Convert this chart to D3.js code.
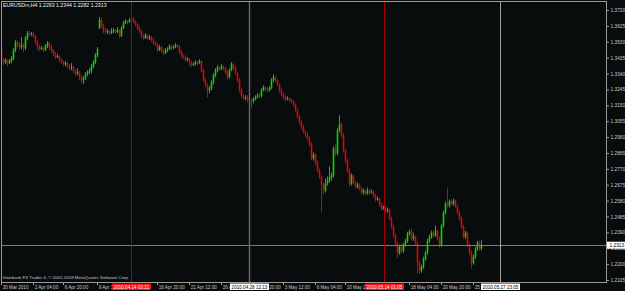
<!DOCTYPE html>
<html>
<head>
<meta charset="utf-8">
<script src="https://cdn.jsdelivr.net/npm/d3@7/dist/d3.min.js"></script>
<style>
html, body { margin: 0; padding: 0; background: #080c0c; overflow: hidden; }
svg { display: block; }
</style>
</head>
<body>
<svg id="chart-svg"></svg>
<script>
// EURUSDm H4 candles, one row of ten per line
let opens = [
1.3480,1.3420,1.3408,1.3420,1.3402,1.3414,1.3432,1.3480,1.3528,1.3516,
1.3498,1.3510,1.3492,1.3552,1.3582,1.3576,1.3582,1.3564,1.3528,1.3498,
1.3486,1.3492,1.3480,1.3504,1.3522,1.3498,1.3480,1.3456,1.3438,1.3444,
1.3420,1.3408,1.3396,1.3402,1.3384,1.3372,1.3378,1.3354,1.3342,1.3348,
1.3318,1.3300,1.3312,1.3336,1.3348,1.3354,1.3384,1.3408,1.3450,1.3612,
1.3660,1.3624,1.3600,1.3588,1.3594,1.3582,1.3594,1.3600,1.3588,1.3600,
1.3564,1.3612,1.3642,1.3654,1.3648,1.3660,1.3666,1.3654,1.3636,1.3612,
1.3594,1.3564,1.3552,1.3570,1.3552,1.3558,1.3540,1.3522,1.3516,1.3480,
1.3498,1.3474,1.3462,1.3480,1.3486,1.3504,1.3492,1.3498,1.3510,1.3504,
1.3468,1.3444,1.3438,1.3420,1.3426,1.3402,1.3390,1.3396,1.3408,1.3402,
1.3414,1.3360,1.3300,1.3270,1.3240,1.3252,1.3288,1.3330,1.3360,1.3378,
1.3366,1.3384,1.3372,1.3348,1.3318,1.3360,1.3396,1.3372,1.3342,1.3300,
1.3240,1.3204,1.3192,1.3198,1.3186,1.3180,1.3174,1.3186,1.3198,1.3210,
1.3204,1.3240,1.3258,1.3246,1.3240,1.3252,1.3300,1.3318,1.3300,1.3276,
1.3240,1.3216,1.3198,1.3186,1.3192,1.3180,1.3174,1.3156,1.3120,1.3084,
1.3048,1.3018,1.2994,1.2976,1.2952,1.2922,1.2832,1.2856,1.2808,1.2760,
1.2724,1.2676,1.2640,1.2682,1.2700,1.2718,1.2730,1.2892,1.2862,1.3000,
1.3036,1.2970,1.2880,1.2820,1.2760,1.2682,1.2730,1.2688,1.2664,1.2676,
1.2652,1.2628,1.2640,1.2622,1.2640,1.2628,1.2634,1.2610,1.2586,1.2592,
1.2556,1.2532,1.2538,1.2520,1.2526,1.2472,1.2424,1.2370,1.2322,1.2268,
1.2304,1.2280,1.2316,1.2340,1.2382,1.2394,1.2352,1.2364,1.2328,1.2208,
1.2160,1.2184,1.2232,1.2268,1.2340,1.2364,1.2388,1.2370,1.2400,1.2352,
1.2316,1.2430,1.2508,1.2562,1.2550,1.2574,1.2562,1.2580,1.2544,1.2508,
1.2472,1.2424,1.2364,1.2388,1.2316,1.2268,1.2208,1.2244,1.2292,1.2328,
1.2293
];
let highs = [
1.3492,1.3432,1.3432,1.3426,1.3426,1.3444,1.3492,1.3540,1.3540,1.3528,
1.3558,1.3522,1.3564,1.3594,1.3594,1.3588,1.3588,1.3570,1.3540,1.3510,
1.3504,1.3504,1.3516,1.3534,1.3528,1.3510,1.3486,1.3468,1.3456,1.3450,
1.3432,1.3420,1.3414,1.3408,1.3396,1.3402,1.3384,1.3366,1.3372,1.3354,
1.3330,1.3324,1.3348,1.3360,1.3372,1.3396,1.3420,1.3462,1.3498,1.3678,
1.3672,1.3636,1.3612,1.3606,1.3600,1.3612,1.3612,1.3606,1.3618,1.3606,
1.3624,1.3654,1.3666,1.3660,1.3672,1.3678,1.3678,1.3660,1.3642,1.3624,
1.3600,1.3576,1.3582,1.3576,1.3570,1.3564,1.3552,1.3534,1.3522,1.3510,
1.3504,1.3486,1.3492,1.3498,1.3516,1.3510,1.3510,1.3522,1.3516,1.3510,
1.3480,1.3456,1.3450,1.3438,1.3432,1.3414,1.3408,1.3420,1.3414,1.3426,
1.3420,1.3366,1.3312,1.3282,1.3264,1.3300,1.3342,1.3372,1.3390,1.3384,
1.3396,1.3390,1.3378,1.3360,1.3372,1.3408,1.3402,1.3384,1.3348,1.3312,
1.3252,1.3216,1.3210,1.3210,1.3198,1.3192,1.3198,1.3210,1.3222,1.3222,
1.3252,1.3270,1.3264,1.3258,1.3264,1.3312,1.3336,1.3324,1.3306,1.3282,
1.3252,1.3228,1.3210,1.3204,1.3198,1.3192,1.3180,1.3162,1.3132,1.3090,
1.3060,1.3030,1.3000,1.2988,1.2964,1.2928,1.2868,1.2862,1.2820,1.2772,
1.2730,1.2688,1.2712,1.2724,1.2784,1.2748,1.2904,1.2916,1.3012,1.3090,
1.3048,1.2982,1.2892,1.2832,1.2772,1.2742,1.2736,1.2700,1.2688,1.2682,
1.2664,1.2652,1.2646,1.2658,1.2652,1.2646,1.2640,1.2622,1.2604,1.2598,
1.2568,1.2550,1.2550,1.2538,1.2532,1.2484,1.2436,1.2382,1.2334,1.2316,
1.2322,1.2328,1.2352,1.2394,1.2406,1.2412,1.2388,1.2370,1.2334,1.2220,
1.2196,1.2244,1.2280,1.2352,1.2376,1.2400,1.2400,1.2430,1.2406,1.2364,
1.2442,1.2520,1.2574,1.2658,1.2586,1.2586,1.2592,1.2586,1.2556,1.2520,
1.2484,1.2436,1.2400,1.2394,1.2328,1.2280,1.2256,1.2304,1.2340,1.2340,
1.2344
];
let lows = [
1.3402,1.3390,1.3396,1.3384,1.3396,1.3402,1.3420,1.3468,1.3498,1.3480,
1.3486,1.3468,1.3480,1.3540,1.3564,1.3564,1.3552,1.3516,1.3480,1.3474,
1.3480,1.3468,1.3474,1.3492,1.3480,1.3462,1.3444,1.3426,1.3432,1.3408,
1.3396,1.3384,1.3384,1.3372,1.3360,1.3360,1.3342,1.3324,1.3330,1.3300,
1.3282,1.3276,1.3300,1.3324,1.3336,1.3342,1.3372,1.3396,1.3438,1.3606,
1.3612,1.3582,1.3576,1.3576,1.3570,1.3576,1.3582,1.3576,1.3582,1.3552,
1.3558,1.3606,1.3636,1.3636,1.3642,1.3648,1.3642,1.3624,1.3600,1.3582,
1.3552,1.3540,1.3546,1.3540,1.3540,1.3528,1.3510,1.3504,1.3468,1.3474,
1.3462,1.3450,1.3456,1.3468,1.3480,1.3480,1.3486,1.3492,1.3492,1.3456,
1.3432,1.3426,1.3408,1.3414,1.3384,1.3378,1.3384,1.3390,1.3390,1.3396,
1.3348,1.3288,1.3258,1.3198,1.3222,1.3240,1.3276,1.3318,1.3348,1.3354,
1.3360,1.3360,1.3336,1.3300,1.3312,1.3354,1.3360,1.3330,1.3288,1.3228,
1.3192,1.3180,1.3180,1.3168,1.3168,1.3132,1.3162,1.3180,1.3192,1.3192,
1.3198,1.3234,1.3234,1.3228,1.3234,1.3246,1.3288,1.3288,1.3264,1.3228,
1.3204,1.3186,1.3174,1.3180,1.3168,1.3162,1.3144,1.3108,1.3072,1.3036,
1.3006,1.2982,1.2958,1.2940,1.2904,1.2820,1.2820,1.2790,1.2748,1.2712,
1.2508,1.2616,1.2628,1.2670,1.2688,1.2700,1.2718,1.2844,1.2850,1.2988,
1.2958,1.2868,1.2802,1.2748,1.2664,1.2670,1.2676,1.2652,1.2652,1.2640,
1.2616,1.2616,1.2610,1.2616,1.2616,1.2622,1.2598,1.2574,1.2580,1.2544,
1.2520,1.2526,1.2508,1.2508,1.2460,1.2412,1.2358,1.2304,1.2238,1.2256,
1.2262,1.2268,1.2304,1.2328,1.2370,1.2340,1.2340,1.2310,1.2142,1.2142,
1.2148,1.2172,1.2220,1.2256,1.2328,1.2352,1.2358,1.2364,1.2340,1.2298,
1.2304,1.2418,1.2496,1.2538,1.2538,1.2550,1.2550,1.2538,1.2496,1.2460,
1.2412,1.2352,1.2352,1.2304,1.2256,1.2172,1.2196,1.2232,1.2280,1.2280,
1.2282
];
let closes = [
1.3420,1.3408,1.3420,1.3402,1.3414,1.3432,1.3480,1.3528,1.3516,1.3498,
1.3510,1.3492,1.3552,1.3582,1.3576,1.3582,1.3564,1.3528,1.3498,1.3486,
1.3492,1.3480,1.3504,1.3522,1.3498,1.3480,1.3456,1.3438,1.3444,1.3420,
1.3408,1.3396,1.3402,1.3384,1.3372,1.3378,1.3354,1.3342,1.3348,1.3318,
1.3300,1.3312,1.3336,1.3348,1.3354,1.3384,1.3408,1.3450,1.3486,1.3660,
1.3624,1.3600,1.3588,1.3594,1.3582,1.3594,1.3600,1.3588,1.3600,1.3564,
1.3612,1.3642,1.3654,1.3648,1.3660,1.3666,1.3654,1.3636,1.3612,1.3594,
1.3564,1.3552,1.3570,1.3552,1.3558,1.3540,1.3522,1.3516,1.3480,1.3498,
1.3474,1.3462,1.3480,1.3486,1.3504,1.3492,1.3498,1.3510,1.3504,1.3468,
1.3444,1.3438,1.3420,1.3426,1.3402,1.3390,1.3396,1.3408,1.3402,1.3414,
1.3360,1.3300,1.3270,1.3240,1.3252,1.3288,1.3330,1.3360,1.3378,1.3366,
1.3384,1.3372,1.3348,1.3318,1.3360,1.3396,1.3372,1.3342,1.3300,1.3240,
1.3204,1.3192,1.3198,1.3186,1.3180,1.3174,1.3186,1.3198,1.3210,1.3204,
1.3240,1.3258,1.3246,1.3240,1.3252,1.3300,1.3318,1.3300,1.3276,1.3240,
1.3216,1.3198,1.3186,1.3192,1.3180,1.3174,1.3156,1.3120,1.3084,1.3048,
1.3018,1.2994,1.2976,1.2952,1.2922,1.2832,1.2856,1.2808,1.2760,1.2724,
1.2676,1.2640,1.2682,1.2700,1.2718,1.2730,1.2892,1.2862,1.3000,1.3036,
1.2970,1.2880,1.2820,1.2760,1.2682,1.2730,1.2688,1.2664,1.2676,1.2652,
1.2628,1.2640,1.2622,1.2640,1.2628,1.2634,1.2610,1.2586,1.2592,1.2556,
1.2532,1.2538,1.2520,1.2526,1.2472,1.2424,1.2370,1.2322,1.2268,1.2304,
1.2280,1.2316,1.2340,1.2382,1.2394,1.2352,1.2364,1.2328,1.2208,1.2160,
1.2184,1.2232,1.2268,1.2340,1.2364,1.2388,1.2370,1.2400,1.2352,1.2316,
1.2430,1.2508,1.2562,1.2550,1.2574,1.2562,1.2580,1.2544,1.2508,1.2472,
1.2424,1.2364,1.2388,1.2316,1.2268,1.2208,1.2244,1.2292,1.2328,1.2292,
1.2313
];

//price scale labels on the right
let priceTicks = [1.3720,1.3625,1.3530,1.3435,1.3340,1.3245,1.3150,1.3055,1.2960,
                  1.2865,1.2770,1.2675,1.2580,1.2485,1.2390,1.2295,1.2200,1.2105];

//time scale labels and the bar they sit on (the ones fully under a marker box are left out)
let timeLabels = ["30 Mar 2010","2 Apr 04:00","6 Apr 20:00","9 Apr 12:00",
                  "16 Apr 20:00","21 Apr 12:00","26 Apr 04:00","28 Apr 20:00","3 May 12:00",
                  "6 May 04:00","10 May 20:00","18 May 04:00","20 May 20:00",
                  "25 May 12:00"];
let timeBars = [0,16,31,48,78,94,110,126,141,157,172,204,220,236];

//vertical lines put on the chart
let markerLabels = ["2010.04.14 02:21","2010.04.28 12:13","2010.05.14 01:05","2010.05.27 23:05"];
let markerBars = [65, 124, 191.5, 249.5];

let symbolTitle = "EURUSDm,H4";
let lastPrice = 1.2313;
let copyrightText = "Interbank FX Trader 4, \u00a9 2001-2009 MetaQuotes Software Corp.";

//svg spec
let width = 625;
let height = 291;
let frame = {left: 1.5, top: 1.5, right: 606.5, bottom: 282.5};

let bgColor = "#080c0c";
let frameColor = "#9a9a9a";
let textColor = "#c8c8c8";
let upColor = "#00dc00";
let downColor = "#ec0000";
let markerLineColors = ["#7e1414", "#6a6a66", "#a00000", "#a8a292"];
let markerBoxColors = ["#ff1010", "#ffffff", "#ff1010", "#ffffff"];
let markerTextColors = ["#ffffff", "#000000", "#ffffff", "#000000"];
let fontFamily = "'Liberation Sans', Arial, sans-serif";

let svg, plotG, xScale, yScale;

function initChart()
{
    svg = d3.select("#chart-svg")
        .attr("width", width)
        .attr("height", height)
        .style("background", bgColor);

    svg.append("rect")
        .attr("width", width).attr("height", height)
        .attr("fill", bgColor);

    xScale = d3.scaleLinear()
        .domain([0, 302])
        .range([1.5, 605.5]);

    yScale = d3.scaleLinear()
        .domain([d3.min(priceTicks), d3.max(priceTicks)])
        .range([280, 10]);

    let defs = svg.append("defs");

    defs.append("clipPath").attr("id", "plot-clip")
        .append("rect")
        .attr("x", frame.left).attr("y", frame.top)
        .attr("width", frame.right - frame.left)
        .attr("height", frame.bottom - frame.top);

    plotG = svg.append("g").attr("clip-path", "url(#plot-clip)");
}

function drawCandles()
{
    let candles = closes.map((c, i) => ({i: i, o: opens[i], h: highs[i], l: lows[i], c: c}));

    plotG.append("g").selectAll("line")
        .data(candles)
        .join("line")
        .attr("x1", d => xScale(d.i))
        .attr("x2", d => xScale(d.i))
        .attr("y1", d => yScale(d.h))
        .attr("y2", d => yScale(d.l))
        .attr("stroke", d => d.c >= d.o ? upColor : downColor)
        .attr("stroke-width", 0.9);

    plotG.append("g").selectAll("rect")
        .data(candles)
        .join("rect")
        .attr("x", d => xScale(d.i) - 0.8)
        .attr("width", 1.6)
        .attr("y", d => yScale(Math.max(d.o, d.c)))
        .attr("height", d => Math.max(1, Math.abs(yScale(d.o) - yScale(d.c))))
        .attr("fill", d => d.c >= d.o ? upColor : downColor);
}

function drawLines()
{
    //current price line
    plotG.append("line")
        .attr("x1", frame.left).attr("x2", frame.right)
        .attr("y1", Math.round(yScale(lastPrice)) + 0.5)
        .attr("y2", Math.round(yScale(lastPrice)) + 0.5)
        .attr("stroke", "#7c7c7c")
        .attr("stroke-width", 1);

    plotG.selectAll(".marker")
        .data(markerBars)
        .join("line")
        .attr("class", "marker")
        .attr("x1", d => xScale(d)).attr("x2", d => xScale(d))
        .attr("y1", frame.top).attr("y2", frame.bottom)
        .attr("stroke", (d, i) => markerLineColors[i])
        .attr("stroke-width", (d, i) => i == 1 ? 1.4 : 1);
}

function drawFrame()
{
    svg.append("rect")
        .attr("x", frame.left).attr("y", frame.top)
        .attr("width", frame.right - frame.left)
        .attr("height", frame.bottom - frame.top)
        .attr("fill", "none")
        .attr("stroke", frameColor)
        .attr("stroke-width", 1);

    svg.append("text")
        .attr("x", 3).attr("y", 7.2)
        .attr("font-family", fontFamily)
        .attr("font-size", 5.2)
        .attr("fill", "#f0f0f0")
        .text(symbolTitle + " " + [opens[opens.length - 1], highs[highs.length - 1],
              lows[lows.length - 1], closes[closes.length - 1]].map(d => d.toFixed(4)).join(" "));

    svg.append("text")
        .attr("x", 3).attr("y", 279)
        .attr("font-family", fontFamily)
        .attr("font-size", 4.4)
        .attr("fill", textColor)
        .text(copyrightText);
}

function drawPriceAxis()
{
    let axisG = svg.append("g")
        .attr("transform", `translate(${frame.right}, 0)`)
        .call(d3.axisRight(yScale)
            .tickValues(priceTicks)
            .tickSize(2.5)
            .tickPadding(1.5)
            .tickFormat(d3.format(".4f")));

    axisG.select(".domain").remove();
    axisG.selectAll(".tick line").attr("stroke", frameColor);
    axisG.selectAll(".tick text")
        .attr("fill", textColor)
        .attr("font-family", fontFamily)
        .attr("font-size", 4.8);

    //last price box
    let py = yScale(lastPrice);
    svg.append("rect")
        .attr("x", frame.right + 0.5).attr("y", py - 3.5)
        .attr("width", width - frame.right).attr("height", 7)
        .attr("fill", "#ffffff");
    svg.append("text")
        .attr("x", frame.right + 3).attr("y", py)
        .attr("dy", "0.35em")
        .attr("font-family", fontFamily)
        .attr("font-size", 4.8)
        .attr("fill", "#000000")
        .text(lastPrice.toFixed(4));
}

function drawTimeAxis()
{
    let axisG = svg.append("g");

    axisG.selectAll("line")
        .data(timeBars)
        .join("line")
        .attr("x1", d => xScale(d)).attr("x2", d => xScale(d))
        .attr("y1", frame.bottom).attr("y2", frame.bottom + 2.5)
        .attr("stroke", frameColor);

    axisG.selectAll("text")
        .data(timeLabels)
        .join("text")
        .attr("x", (d, i) => xScale(timeBars[i]) + 1.2)
        .attr("y", 289)
        .attr("font-family", fontFamily)
        .attr("font-size", 4.6)
        .attr("fill", textColor)
        .text(d => d);

    //marker time boxes
    let boxG = svg.append("g");
    boxG.selectAll("rect")
        .data(markerBars)
        .join("rect")
        .attr("x", d => xScale(d) - 19.5)
        .attr("y", 283.5)
        .attr("width", 39)
        .attr("height", 6.5)
        .attr("fill", (d, i) => markerBoxColors[i]);

    boxG.selectAll("text")
        .data(markerBars)
        .join("text")
        .attr("x", d => xScale(d))
        .attr("y", 288.6)
        .attr("text-anchor", "middle")
        .attr("font-family", fontFamily)
        .attr("font-size", 4.6)
        .attr("fill", (d, i) => markerTextColors[i])
        .text((d, i) => markerLabels[i]);
}

initChart();
drawCandles();
drawLines();
drawFrame();
drawPriceAxis();
drawTimeAxis();
</script>
</body>
</html>
